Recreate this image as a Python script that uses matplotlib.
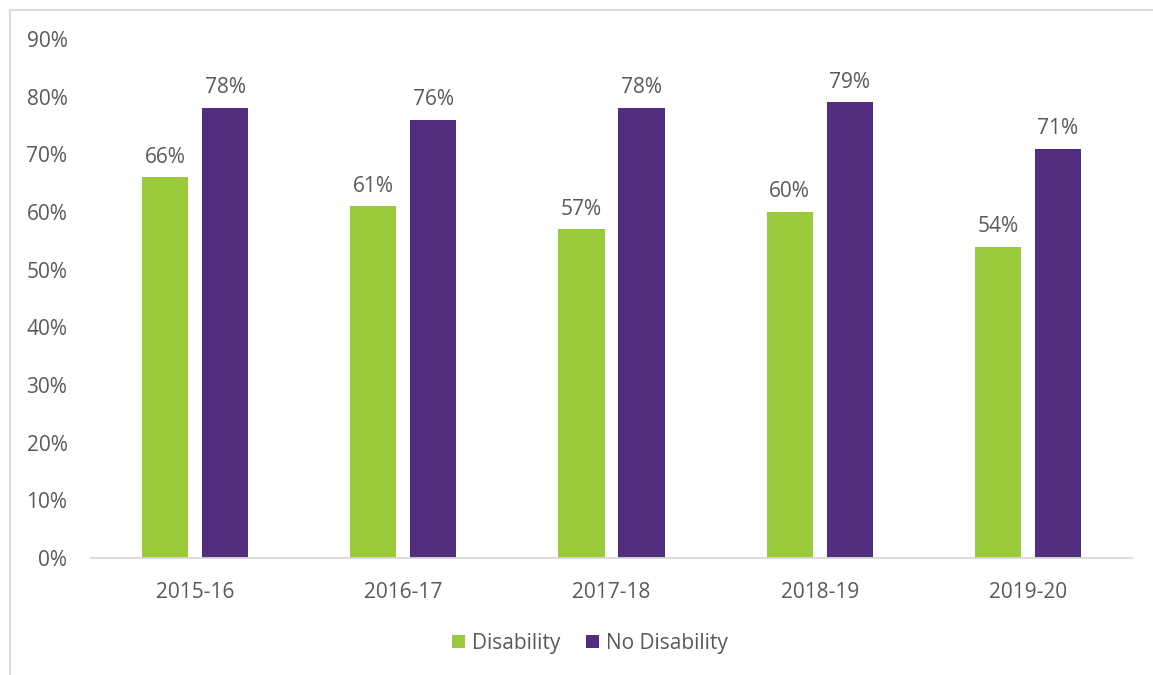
import matplotlib
matplotlib.use("Agg")
import matplotlib.pyplot as plt
import numpy as np
from matplotlib.patches import Rectangle

categories = ["2015-16", "2016-17", "2017-18", "2018-19", "2019-20"]
disability = [66, 61, 57, 60, 54]
no_disability = [78, 76, 78, 79, 71]
series_names = ["Disability", "No Disability"]

plt.rcParams['font.family'] = ['Open Sans', 'DejaVu Sans']
text_color = "#595959"
green = "#9BC93C"
purple = "#522D80"
fs = 15

fig = plt.figure(figsize=(11.53, 6.75), dpi=100)
ax = fig.add_axes([91/1153, 1-558/675, (1132-91)/1153, (558-39)/675])

x = np.arange(len(categories))
w = 0.222
off = 0.144
b1 = ax.bar(x - off, disability, w, color=green, label=series_names[0])
b2 = ax.bar(x + off, no_disability, w, color=purple, label=series_names[1])

for bars, vals in ((b1, disability), (b2, no_disability)):
    for r, v in zip(bars, vals):
        ax.annotate(f"{v}%", (r.get_x() + r.get_width()/2, v), xytext=(0, 7),
                    textcoords="offset points", ha="center", va="bottom",
                    fontsize=fs, color=text_color)

ax.set_xlim(-0.5, len(categories) - 0.5)
ax.set_ylim(0, 90)
ax.set_yticks(range(0, 91, 10))
ax.set_yticklabels([f"{t}%" for t in range(0, 91, 10)])
ax.set_xticks(x)
ax.set_xticklabels(categories)
ax.tick_params(axis='both', length=0, labelsize=fs, labelcolor=text_color)
ax.tick_params(axis='y', pad=17)
ax.tick_params(axis='x', pad=17)
for s in ("top", "right", "left"):
    ax.spines[s].set_visible(False)
ax.spines["bottom"].set_color("#d9d9d9")
ax.spines["bottom"].set_linewidth(1.3)

leg = fig.legend(handles=[b1, b2], loc="center", bbox_to_anchor=(590/1153, 1-643/675),
                 ncol=2, frameon=False, fontsize=fs, handlelength=0.6, handleheight=0.6,
                 handletextpad=0.35, columnspacing=1.25)
for t in leg.get_texts():
    t.set_color(text_color)

fig.patches.append(Rectangle((10/1153, -0.05), 1.1, 1.05 - 10/675,
                             transform=fig.transFigure, fill=False,
                             edgecolor="#d9d9d9", linewidth=1.3))

fig.savefig("out.png", dpi=100)
